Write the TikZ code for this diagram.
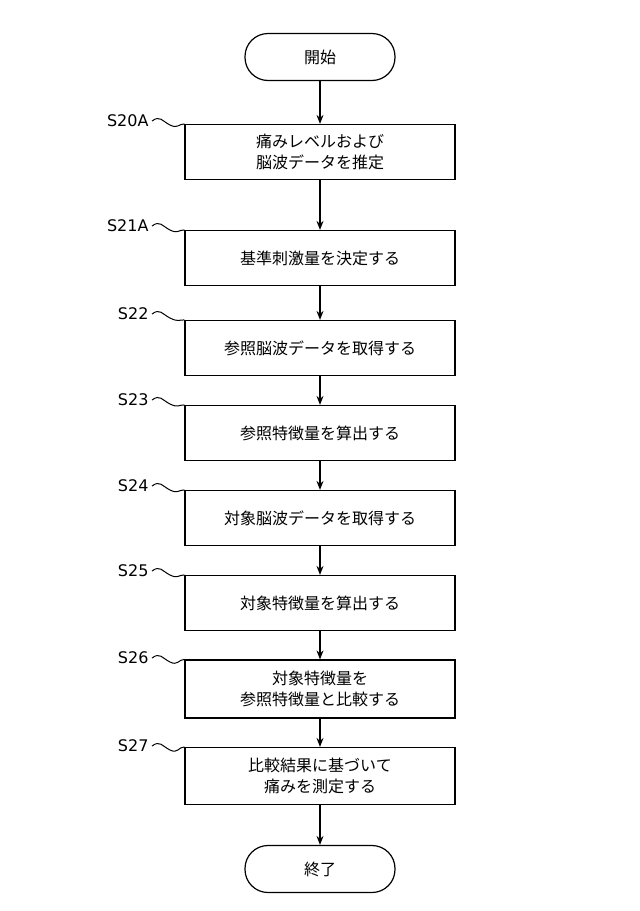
\documentclass[tikz,border=0pt]{standalone}
\usepackage{fontspec}
\newfontfamily\cjk{Noto Sans CJK JP}
\newfontfamily\lab{DejaVu Sans}
\usetikzlibrary{arrows.meta,calc}
\tikzset{
 stepbox/.style={draw,line width=1.2pt,minimum width=270pt,align=center,font=\cjk\fontsize{16}{21}\selectfont,inner sep=0pt},
 term/.style={draw,line width=1.2pt,rounded corners=23pt,minimum width=150pt,minimum height=47pt,font=\cjk\fontsize{16}{20}\selectfont},
 lbl/.style={font=\lab\fontsize{16}{18}\selectfont,anchor=east},
 arr/.style={-{Stealth[length=9pt,width=7pt]},line width=1.2pt},
 sq/.style={line width=1pt}
}
\begin{document}
\begin{tikzpicture}[x=1pt,y=-1pt]
\useasboundingbox (0,0) rectangle (640,911);
\node[term] (st) at (320,57) {開始};
\node[stepbox,minimum height=55pt] (s20) at (320,152) {痛みレベルおよび\\脳波データを推定};
\node[stepbox,minimum height=55pt] (s21) at (320,258) {基準刺激量を決定する};
\node[stepbox,minimum height=55pt] (s22) at (320,348) {参照脳波データを取得する};
\node[stepbox,minimum height=55pt] (s23) at (320,433) {参照特徴量を算出する};
\node[stepbox,minimum height=55pt] (s24) at (320,518) {対象脳波データを取得する};
\node[stepbox,minimum height=55pt] (s25) at (320,603) {対象特徴量を算出する};
\node[stepbox,minimum height=58pt] (s26) at (320,689) {対象特徴量を\\参照特徴量と比較する};
\node[stepbox,minimum height=57pt] (s27) at (320,776) {比較結果に基づいて\\痛みを測定する};
\node[term] (en) at (320,869) {終了};
\foreach \a/\b in {st/s20,s20/s21,s21/s22,s22/s23,s23/s24,s24/s25,s25/s26,s26/s27,s27/en}
  \draw[arr] (\a) -- (\b);
\foreach \n/\t/\y in {s20/S20A/121,s21/S21A/226,s22/S22/314,s23/S23/400,s24/S24/486,s25/S25/571,s26/S26/658,s27/S27/746}{
  \node[lbl] (l\n) at (152,\y) {\t};
  \coordinate (m\n) at ($(l\n.east)+(18,4)$);
  \draw[sq] (l\n.east) .. controls +(8,-6) and +(-8,-4) .. (m\n) .. controls +(8,4) and +(-6,0) .. (\n.north west);
}
\end{tikzpicture}
\end{document}
